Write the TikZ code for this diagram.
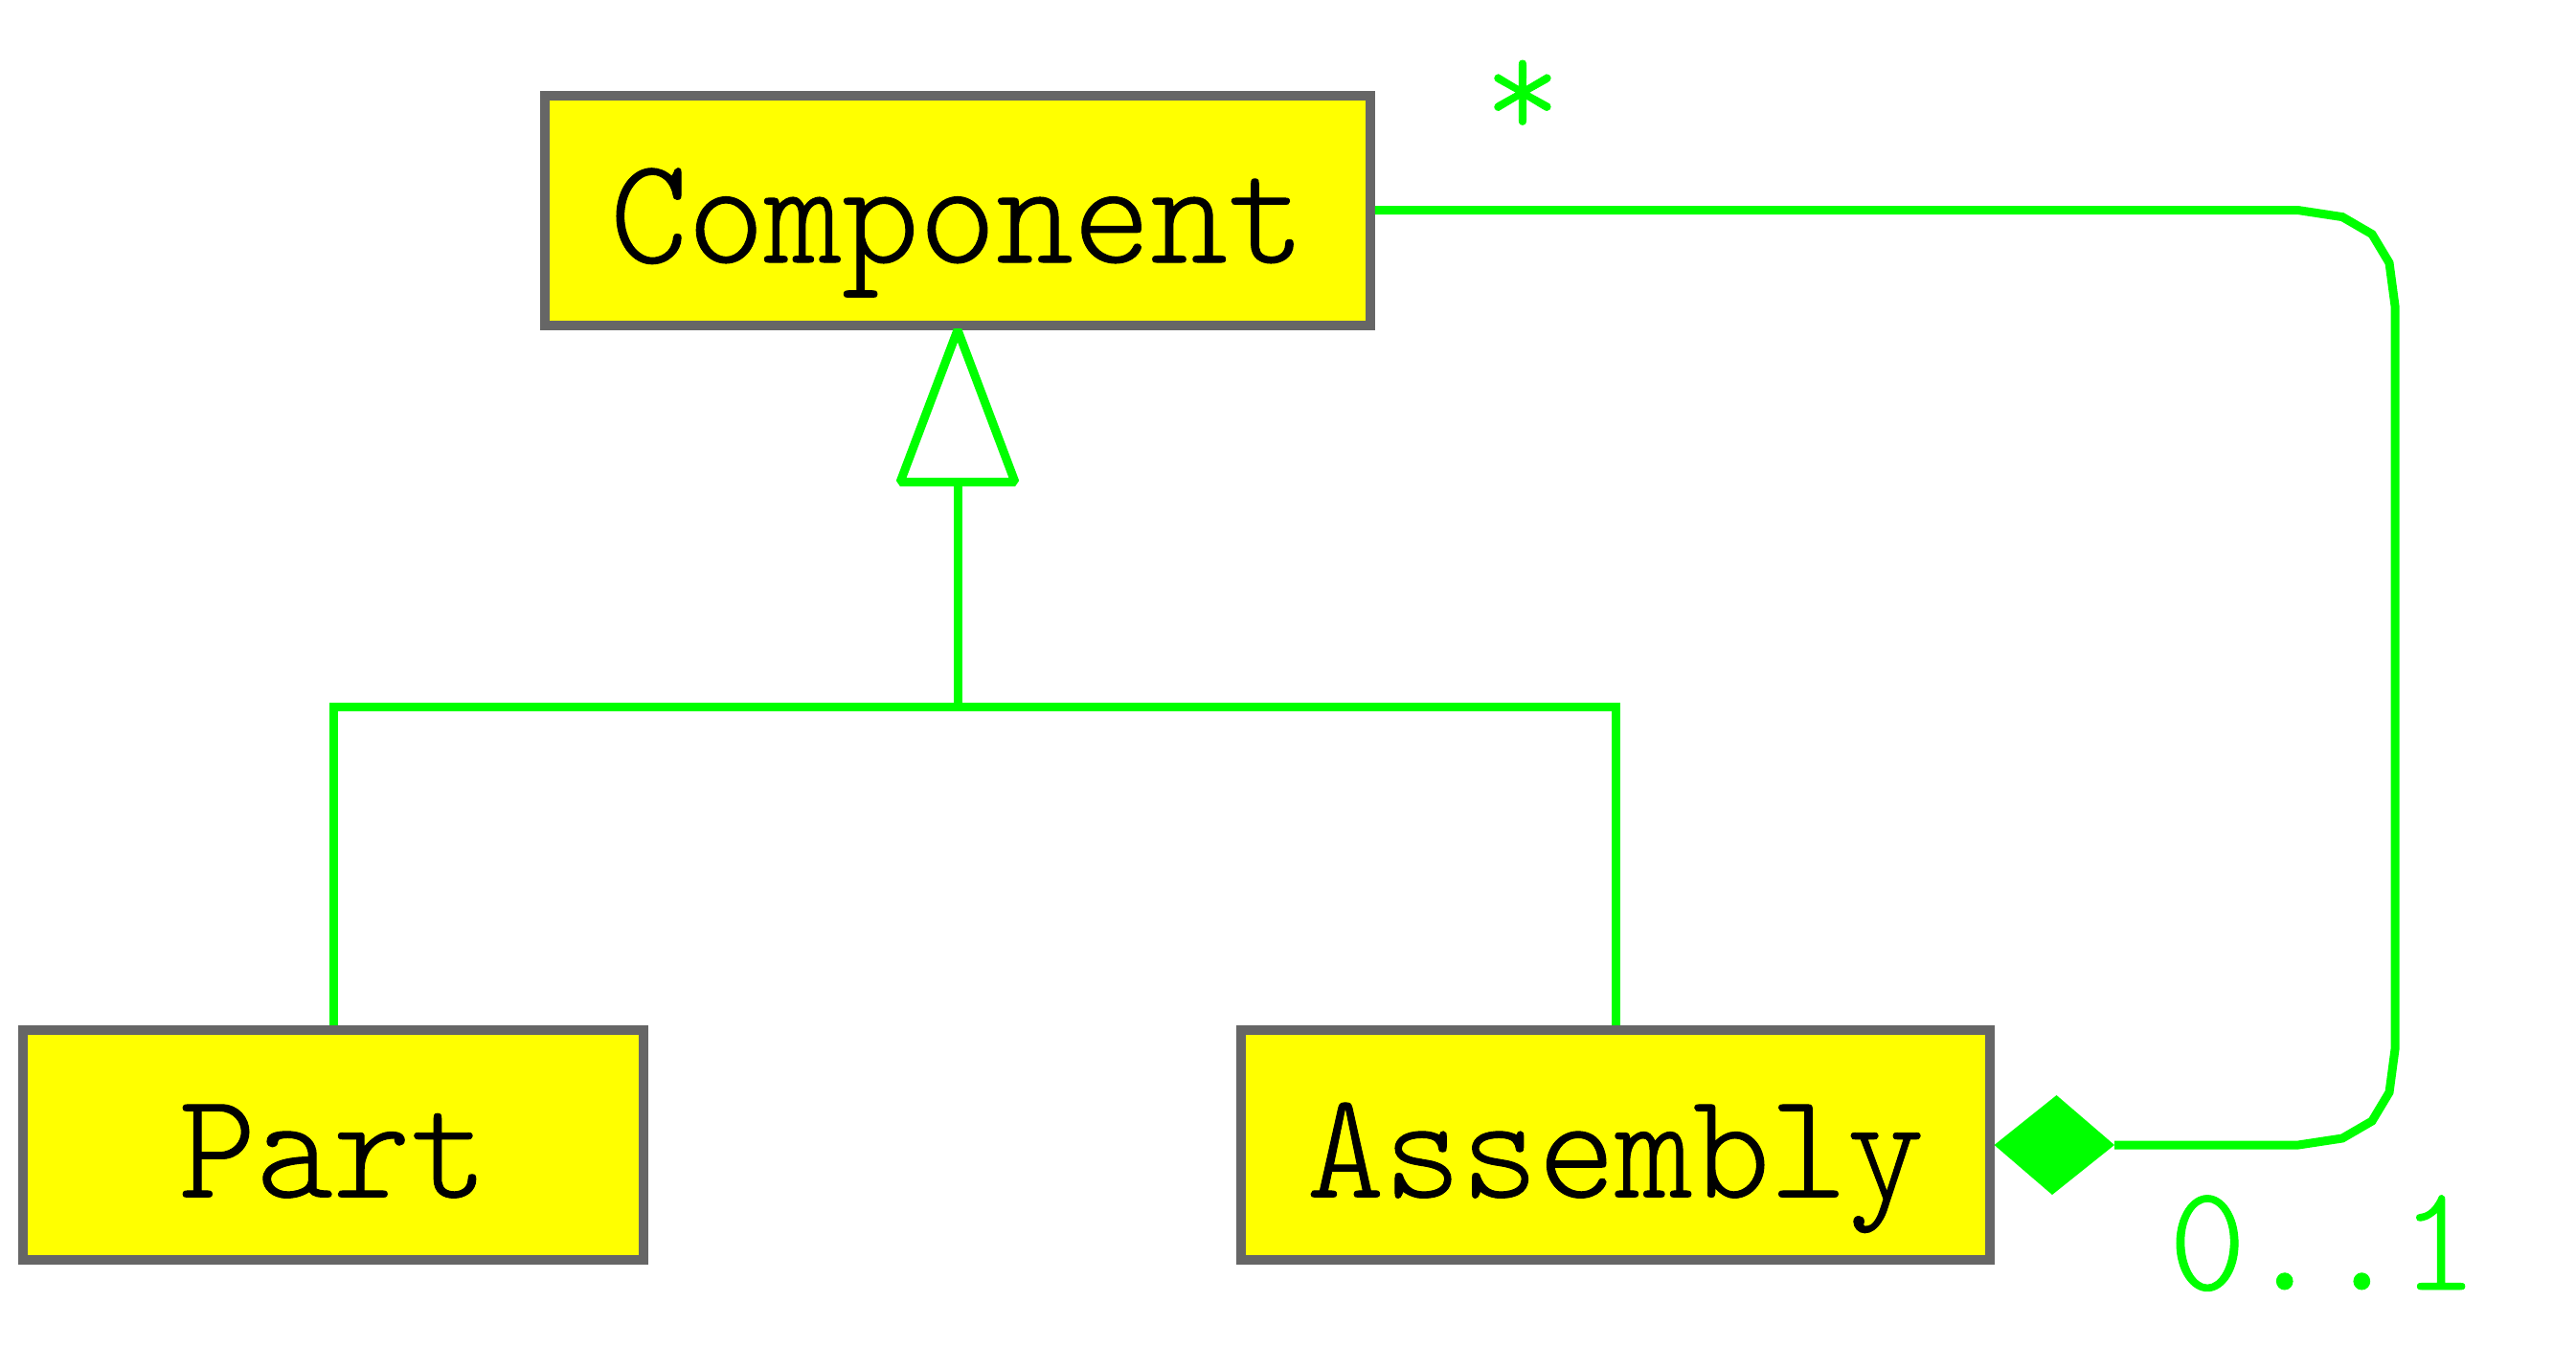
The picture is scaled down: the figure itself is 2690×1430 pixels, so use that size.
\documentclass[tikz,border=0pt]{standalone}
\usepackage{fontspec}
\newfontfamily\umlfont[FakeStretch=0.97, FakeBold=0.6]{lmmonolt10-regular.otf}
\definecolor{umlyellow}{HTML}{FFFF00}
\definecolor{boxgray}{HTML}{666666}
\definecolor{linkgreen}{HTML}{00FF00}
\begin{document}
\begin{tikzpicture}[x=0.01cm,y=-0.01cm,
  umlclass/.style={draw=boxgray, line width=0.1cm, fill=umlyellow, inner sep=0pt,
    minimum height=2.4cm, text height=31pt, text depth=0pt,
    font=\fontsize{45}{54}\selectfont\umlfont},
  link/.style={draw=linkgreen, line width=0.09cm},
  mult/.style={text=linkgreen, inner sep=0pt, font=\fontsize{45}{54}\selectfont\umlfont}]
\useasboundingbox (0,0) rectangle (2690,1430);

% classes
\node[umlclass, minimum width=8.61cm] (comp) at (1000,219.6) {Component};
\node[umlclass, minimum width=6.485cm] (part) at (348,1196) {Part};
\node[umlclass, minimum width=7.806cm] (asm) at (1687,1196) {Assembly};

% generalization: Part and Assembly specialise Component
\coordinate (gbase) at (1000,499);
\coordinate (gjoin) at (1000,738);
\draw[link] (part.north) |- (gjoin) -| (asm.north);
\draw[link] (gjoin) -- (gbase);
\draw[link, fill=white, line join=bevel] (comp.south) -- ++(-60,159) -- ++(120,0) -- cycle;

% composition: an Assembly is made of Components, routed round the right side
\coordinate (loop) at (2501,1196);
\coordinate (dtail) at (2208,1196);
\draw[link] (comp.east) -- (2400,219.6) -- ++(46,7) -- ++(31,18) -- ++(18,30) -- ++(6,45)
  -- (2501,1096) -- ++(-6,45) -- ++(-18,30) -- ++(-31,18) -- ++(-46,7) -- (dtail);
\fill[linkgreen] (asm.east) -- ++(65,-52) -- (dtail) -- ++(-65,52) -- cycle;

% multiplicities
\node[mult, anchor=base] (many) at (1590,145) {*};
\node[mult, anchor=base] (opt) at (2426,1347) {0..1};
\end{tikzpicture}
\end{document}
